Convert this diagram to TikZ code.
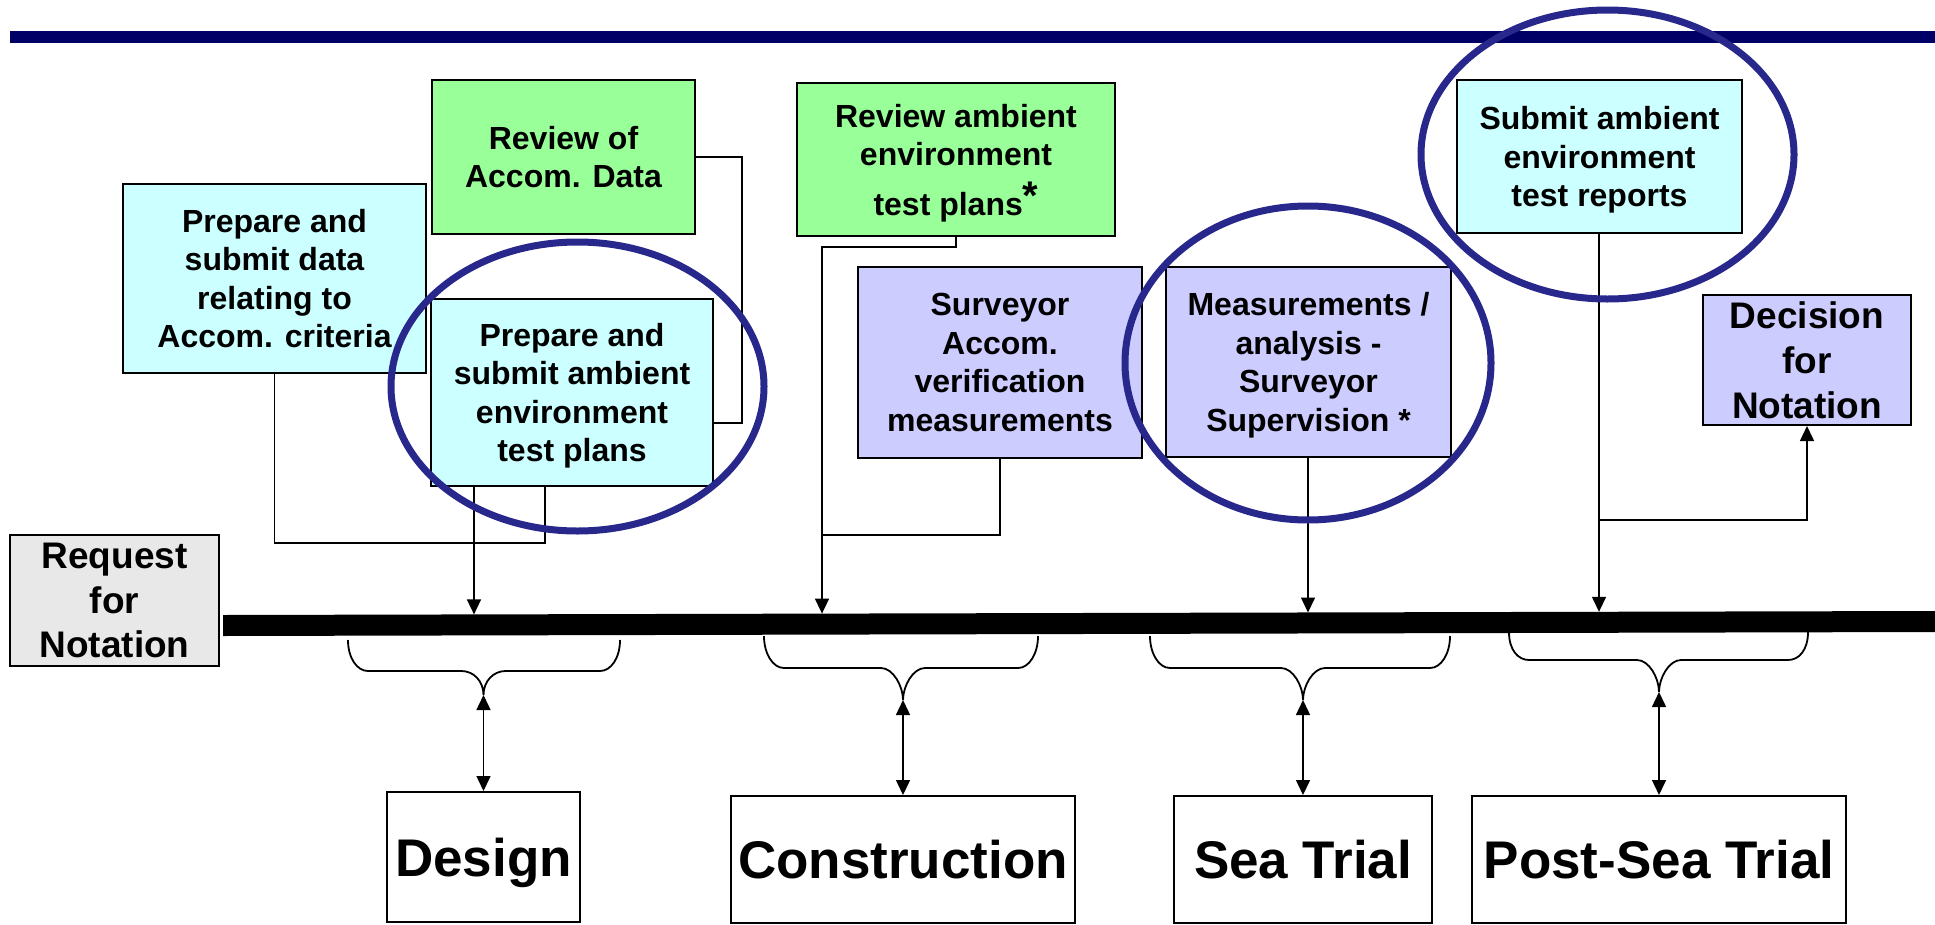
\documentclass[tikz,border=0pt]{standalone}
\usepackage{fontspec}
\setmainfont{Liberation Sans}
\usetikzlibrary{arrows.meta}
\definecolor{navyrule}{RGB}{0,0,102}
\definecolor{ringblue}{RGB}{40,40,140}
\definecolor{cyanfill}{RGB}{204,255,255}
\definecolor{greenfill}{RGB}{153,255,153}
\definecolor{lavfill}{RGB}{204,204,255}
\definecolor{grayfill}{RGB}{232,232,232}
\newcommand\mybrace[6]{%
  \draw[bracestyle] (#1,#3) .. controls (#1,#3+18) and (#1+9,#4) .. (#1+20,#4)
    -- (#5-22,#4) .. controls (#5-10,#4) and (#5,#6-14) .. (#5,#6)
    .. controls (#5,#6-14) and (#5+10,#4) .. (#5+22,#4)
    -- (#2-20,#4) .. controls (#2-9,#4) and (#2,#3+18) .. (#2,#3);}
\tikzset{
  box/.style={draw=black, line width=2pt, align=center, inner sep=0pt, text depth=0pt,
    font=\bfseries\fontsize{32}{38.5}\selectfont},
  bigbox/.style={box, font=\bfseries\fontsize{37}{44.6}\selectfont},
  phasebox/.style={box, fill=white, font=\bfseries\fontsize{53}{60}\selectfont},
  conn/.style={line width=1.5pt},
  arr/.style={conn, -{Triangle[length=15pt,width=14pt]}},
  darr/.style={conn, {Triangle[length=15pt,width=14pt]}-{Triangle[length=15pt,width=14pt]}},
  bracestyle/.style={line width=1.8pt},
  ring/.style={draw=ringblue, line width=7pt},
}
\begin{document}
\begin{tikzpicture}[x=1pt,y=-1pt]
\useasboundingbox (0,0) rectangle (1935,924);
% top rule
\fill[navyrule] (10,31) rectangle (1935,43);

% upper boxes
\node[box, fill=cyanfill, minimum width=303pt, minimum height=189pt] (pdata) at (274.5,278.5)
  {Prepare and\\submit data\\relating to\\Accom. criteria};
\node[box, fill=greenfill, minimum width=263pt, minimum height=154pt] (revacc) at (563.5,157)
  {Review of\\Accom. Data};
\node[box, fill=cyanfill, minimum width=282pt, minimum height=187pt] (pamb) at (572,392.5)
  {Prepare and\\submit ambient\\environment\\test plans};
\node[box, fill=greenfill, minimum width=318pt, minimum height=153pt] (revamb) at (956,159.5)
  {Review ambient\\environment\\[11pt]test plans\raisebox{6pt}{\fontsize{40}{40}\selectfont*}};
\node[box, fill=lavfill, minimum width=284pt, minimum height=191pt] (surv) at (1000,362.5)
  {Surveyor\\Accom.\\verification\\measurements};
\node[box, fill=lavfill, minimum width=285pt, minimum height=190pt] (meas) at (1308.5,362)
  {Measurements /\\analysis -\\Surveyor\\Supervision *};
\node[box, fill=cyanfill, minimum width=285pt, minimum height=153pt] (subrep) at (1599.5,156.5)
  {Submit ambient\\environment\\test reports};
\node[bigbox, fill=lavfill, minimum width=208pt, minimum height=130pt] (decis) at (1807,360)
  {Decision\\for\\Notation};
\node[bigbox, fill=grayfill, minimum width=209pt, minimum height=131pt] (req) at (114.5,600.5)
  {Request\\for\\Notation};

% phase boxes
\node[phasebox, minimum width=193pt, minimum height=130pt] (design) at (483.5,857) {Design};
\node[phasebox, minimum width=344pt, minimum height=127pt] (constr) at (903,859.5) {Construction};
\node[phasebox, minimum width=258pt, minimum height=127pt] (sea) at (1303,859.5) {Sea Trial};
\node[phasebox, minimum width=374pt, minimum height=127pt] (post) at (1659,859.5) {Post-Sea Trial};

% timeline bar
\fill[black] (223,615) -- (1935,611) -- (1935,632) -- (223,636) -- cycle;
\coordinate (t1) at (474,614.4);
\coordinate (t2) at (822,613.6);
\coordinate (t3) at (1308,612.5);
\coordinate (t4) at (1599,611.8);

% connectors upper
\draw[conn] (revacc.east) -| (742,423) -- (pamb.east |- 742,423);
\draw[conn] (pdata.south) |- (545,543) -- (pamb.south -| 545,0);
\draw[arr] (pamb.south -| t1) -- (t1);
\draw[arr] (revamb.south) -- ++(0,10) -| (t2);
\draw[conn] (surv.south) |- (822,535);
\draw[arr] (meas.south -| t3) -- (t3);
\draw[arr] (subrep.south -| t4) -- (t4);
\draw[arr] (t4 |- 0,520) -| (decis.south);

% braces
\mybrace{348}{620}{640}{671}{483.5}{695}
\mybrace{764}{1038}{636}{668}{903}{700}
\mybrace{1150}{1450}{636}{668}{1303}{700}
\mybrace{1509}{1808}{632}{660}{1659}{692}
\coordinate (b1) at (483.5,695);
\coordinate (b2) at (903,700);
\coordinate (b3) at (1303,700);
\coordinate (b4) at (1659,692);
\draw[darr] (b1) -- (design.north);
\draw[darr] (b2) -- (constr.north);
\draw[darr] (b3) -- (sea.north);
\draw[darr] (b4) -- (post.north);

% highlight rings
\draw[ring] (577.5,386.5) ellipse [x radius=186.5, y radius=144.5];
\draw[ring] (1308,363) ellipse [x radius=183, y radius=157];
\draw[ring] (1607.5,154.5) ellipse [x radius=186.5, y radius=144.5];
\end{tikzpicture}
\end{document}
